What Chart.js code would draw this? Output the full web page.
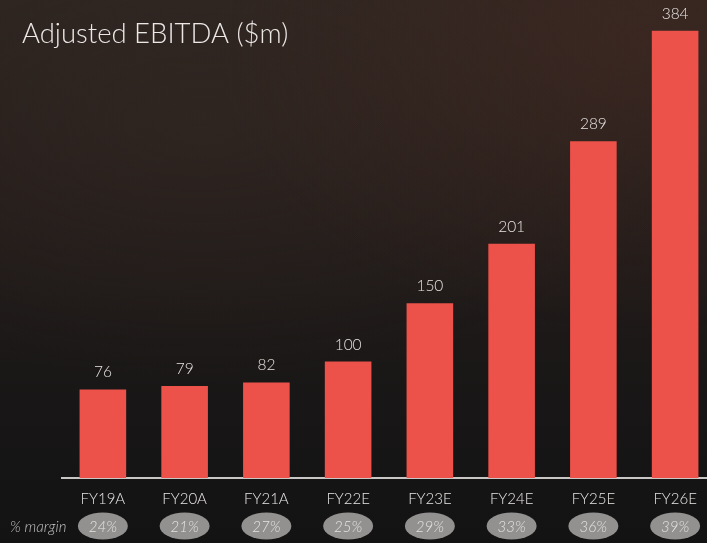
<!DOCTYPE html>
<html>
<head>
<meta charset="utf-8">
<script src="https://cdn.jsdelivr.net/npm/chart.js@4/dist/chart.umd.min.js"></script>
<style>
html,body{margin:0;padding:0;width:707px;height:543px;overflow:hidden;}
body{background:
 radial-gradient(ellipse 420px 300px at 640px 40px, rgba(70,42,34,0.55), rgba(70,42,34,0) 100%),
 radial-gradient(ellipse 500px 260px at 200px 120px, rgba(55,42,36,0.5), rgba(55,42,36,0) 100%),
 linear-gradient(180deg,#2c2420 0%,#221c1a 40%,#181616 75%,#131313 100%);}
#wrap{position:absolute;left:0;top:0;width:717px;height:543px;}
</style>
</head>
<body>
<div id="wrap"><canvas id="c" width="717" height="543"></canvas></div>
<script>
const titleText = "Adjusted EBITDA ($m)";
const categories = ["FY19A","FY20A","FY21A","FY22E","FY23E","FY24E","FY25E","FY26E"];
const ebitda = [76, 79, 82, 100, 150, 201, 289, 384];
const marginLabel = "% margin";
const margins = ["24%","21%","27%","25%","29%","33%","36%","39%"];

const FONT = "Lato, 'Open Sans', sans-serif";

const decor = {
  id: 'decor',
  afterDraw(chart) {
    const ctx = chart.ctx;
    const xs = chart.scales.x;
    const meta = chart.getDatasetMeta(0);
    ctx.save();
    // title
    ctx.fillStyle = '#ebe8e6';
    ctx.font = "300 27.5px " + FONT;
    ctx.textAlign = 'left';
    ctx.textBaseline = 'alphabetic';
    ctx.fillText(titleText, 22, 43);
    // value labels
    ctx.font = "300 15.5px " + FONT;
    ctx.fillStyle = '#e6e3e1';
    ctx.textAlign = 'center';
    ctx.textBaseline = 'middle';
    meta.data.forEach((bar, i) => {
      ctx.fillText(String(ebitda[i]), bar.x, bar.y - 17);
    });
    // margin ellipses
    categories.forEach((c, i) => {
      const x = xs.getPixelForValue(i);
      ctx.beginPath();
      ctx.ellipse(x, 526, 25, 13.5, 0, 0, Math.PI * 2);
      ctx.fillStyle = '#939190';
      ctx.fill();
      ctx.fillStyle = '#e4e2e0';
      ctx.font = "italic 300 15px " + FONT;
      ctx.fillText(margins[i], x, 527);
    });
    ctx.fillStyle = '#c4c2c0';
    ctx.font = "italic 300 15px " + FONT;
    ctx.textAlign = 'left';
    ctx.fillText(marginLabel, 10, 527);
    ctx.restore();
  }
};

new Chart(document.getElementById('c'), {
  type: 'bar',
  data: {
    labels: categories,
    datasets: [{
      data: ebitda,
      backgroundColor: '#ec524a',
      borderWidth: 0,
      barPercentage: 0.57,
      categoryPercentage: 1.0
    }]
  },
  options: {
    responsive: false,
    animation: false,
    events: [],
    layout: { padding: { left: 62, right: 1, top: 12, bottom: 0 } },
    plugins: { legend: { display: false }, tooltip: { enabled: false }, title: { display: false } },
    scales: {
      x: {
        grid: { display: false, drawTicks: false },
        border: { display: true, color: '#c9c7c5', width: 2 },
        ticks: { color: '#e8e6e4', font: { family: FONT, size: 15, weight: '300' }, padding: 12 },
        afterFit(scale) { scale.height = 65; }
      },
      y: {
        display: false,
        min: 0,
        max: 400
      }
    }
  },
  plugins: [decor]
});
</script>
</body>
</html>
